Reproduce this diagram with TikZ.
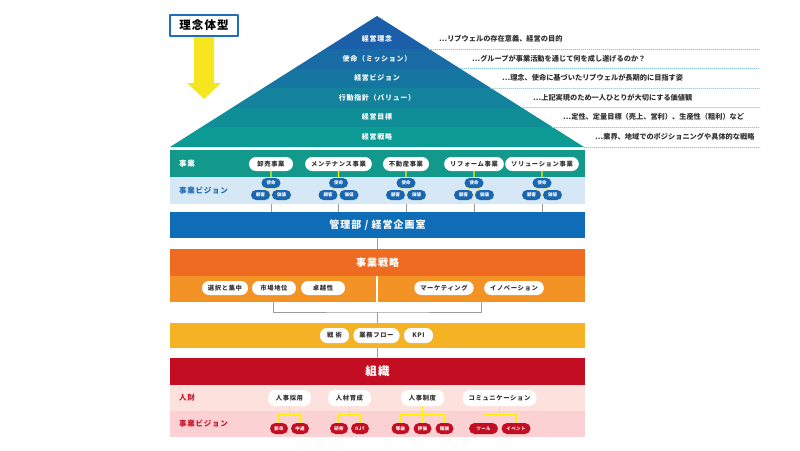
\documentclass[tikz,border=0pt]{standalone}
\usepackage{fontspec}
\setmainfont{Noto Sans CJK JP}
\newfontfamily\widefont[LetterSpace=10]{Noto Sans CJK JP}
\usetikzlibrary{positioning}

\definecolor{pyrTop}{HTML}{1B5FAA}
\definecolor{pyrBottom}{HTML}{0C9A94}
\definecolor{jigyoTeal}{HTML}{12998C}
\definecolor{visionBlue}{HTML}{D6E7F5}
\definecolor{labelBlue}{HTML}{1F6CB4}
\definecolor{vpillBlue}{HTML}{1A66B0}
\definecolor{kanriBlue}{HTML}{0F6DB8}
\definecolor{senOrange}{HTML}{EF6B22}
\definecolor{senLight}{HTML}{F39325}
\definecolor{tacYellow}{HTML}{F4B224}
\definecolor{orgRed}{HTML}{C30D23}
\definecolor{jinPink}{HTML}{FDE1DD}
\definecolor{visPink}{HTML}{FBD1D4}
\definecolor{labelRed}{HTML}{C9172D}
\definecolor{lineYellow}{HTML}{FFF100}
\definecolor{lineGray}{HTML}{9D9D9D}
\definecolor{dotBlue}{HTML}{8DC5E8}
\definecolor{boxBlue}{HTML}{1F6FBF}
\definecolor{arrowYellow}{HTML}{F7E51F}
\definecolor{inkGray}{HTML}{333333}

\begin{document}
\begin{tikzpicture}[
  x=1pt, y=-1pt,
  line cap=round,
  line join=round,
  bar/.style={minimum width=415pt, minimum height=27pt, inner sep=0pt, text=white,
    font={\widefont\bfseries\fontsize{10}{12}\selectfont}},
  pyrlabel/.style={text=white, inner sep=0pt, font={\widefont\bfseries\fontsize{7}{8}\selectfont}},
  desc/.style={anchor=west, inner sep=0pt, text=inkGray, font={\bfseries\fontsize{7.2}{8}\selectfont}},
  lbl/.style={anchor=west, inner sep=0pt, font={\widefont\bfseries\fontsize{7.5}{9}\selectfont}},
  pill/.style={fill=white, text=inkGray, rounded corners=7pt, minimum width=44pt, minimum height=14pt,
    inner xsep=6pt, inner ysep=0pt, font={\widefont\bfseries\fontsize{6.3}{7}\selectfont}},
  vpill/.style={fill=vpillBlue, text=white, rounded corners=5pt, minimum width=19pt, minimum height=10pt,
    inner sep=0pt, font={\bfseries\fontsize{4.5}{5}\selectfont}},
  rpill/.style={fill=orgRed, text=white, rounded corners=5.5pt, minimum width=18pt, minimum height=11pt,
    inner xsep=4pt, inner ysep=0pt, font={\widefont\bfseries\fontsize{4.5}{5}\selectfont}},
  gline/.style={draw=lineGray, line width=1pt, line cap=butt},
  yline/.style={draw=lineYellow, line width=1.2pt, line cap=butt},
  dotline/.style={draw=dotBlue, line width=0.7pt, dash pattern=on 0.7pt off 1.3pt}
]
  \useasboundingbox (0,0) rectangle (800,450);

  % 理念体型
  \node[draw=boxBlue, line width=2.2pt, fill=white, minimum width=68pt, minimum height=21pt, inner sep=0pt,
    font={\widefont\bfseries\fontsize{11.5}{13}\selectfont}] (rinen) at (204,25.5) {理念体型};
  \fill[arrowYellow] (194,37) -- (194,83) -- (187,83) -- (204,99) -- (221,83) -- (214,83) -- (214,37) -- cycle;

  % ピラミッド
  \coordinate (A) at (170,147);
  \coordinate (B) at (584,147);
  \coordinate (S) at (377,16);
  \coordinate (E) at (760,0);
  \begin{scope}
    \clip (A) -- (S) -- (B) -- cycle;
    \fill[pyrTop] (170,10) rectangle (584,49.3);
    \fill[pyrBottom!20!pyrTop] (170,49) rectangle (584,68.8);
    \fill[pyrBottom!40!pyrTop] (170,68.5) rectangle (584,88.3);
    \fill[pyrBottom!60!pyrTop] (170,88) rectangle (584,107.8);
    \fill[pyrBottom!80!pyrTop] (170,107.5) rectangle (584,127.3);
    \fill[pyrBottom] (170,127) rectangle (584,148);
  \end{scope}

  \node[pyrlabel] (p1) at (377,39) {経営理念};
  \node[pyrlabel] (p2) at (377,58.5) {使命（ミッション）};
  \node[pyrlabel] (p3) at (377,78) {経営ビジョン};
  \node[pyrlabel] (p4) at (377,97.5) {行動指針（バリュー）};
  \node[pyrlabel] (p5) at (377,117) {経営目標};
  \node[pyrlabel] (p6) at (377,137) {経営戦略};

  % 説明
  \path (S) -- (B) coordinate[pos=0.252] (h1) coordinate[pos=0.401] (h2) coordinate[pos=0.550] (h3)
    coordinate[pos=0.698] (h4) coordinate[pos=0.847] (h5) coordinate[pos=1] (h6);
  \draw[dotline] (h1) -- (h1 -| E);
  \draw[dotline] (h2) -- (h2 -| E);
  \draw[dotline] (h3) -- (h3 -| E);
  \draw[dotline] (h4) -- (h4 -| E);
  \draw[dotline] (h5) -- (h5 -| E);
  \draw[dotline] (h6) -- (h6 -| E);

  \node[desc] (d1) at (439,39) {…リブウェルの存在意義、経営の目的};
  \node[desc] (d2) at (472,58.5) {…グループが事業活動を通じて何を成し遂げるのか？};
  \node[desc] (d3) at (502,78) {…理念、使命に基づいたリブウェルが長期的に目指す姿};
  \node[desc] (d4) at (533,97.5) {…上記実現のため一人ひとりが大切にする価値観};
  \node[desc] (d5) at (563,117) {…定性、定量目標（売上、営利）、生産性（粗利）など};
  \node[desc] (d6) at (595,136.5) {…業界、地域でのポジショニングや具体的な戦略};

  % 事業
  \node[bar, fill=jigyoTeal] (jigyo) at (377.5,163.5) {};
  \node[bar, fill=visionBlue] (vision) at (377.5,190.5) {};
  \node[lbl, text=white] (lj) at (179,163.5) {事業};
  \node[lbl, text=labelBlue] (lv) at (179,190.5) {事業ビジョン};

  \node[pill] (b1) at (271,164) {卸売事業};
  \node[pill] (b2) at (338.5,164) {メンテナンス事業};
  \node[pill] (b3) at (406,164) {不動産事業};
  \node[pill] (b4) at (474,164) {リフォーム事業};
  \node[pill] (b5) at (542,164) {ソリューション事業};

  % 事業ビジョン
  \node[vpill] (s1) at (271,183) {使命};
  \node[vpill] (k1) at (260.5,195) {顧客};
  \node[vpill] (v1) at (281.5,195) {価値};
  \node[vpill] (s2) at (338.5,183) {使命};
  \node[vpill] (k2) at (328,195) {顧客};
  \node[vpill] (v2) at (349,195) {価値};
  \node[vpill] (s3) at (406,183) {使命};
  \node[vpill] (k3) at (395.5,195) {顧客};
  \node[vpill] (v3) at (416.5,195) {価値};
  \node[vpill] (s4) at (474,183) {使命};
  \node[vpill] (k4) at (463.5,195) {顧客};
  \node[vpill] (v4) at (484.5,195) {価値};
  \node[vpill] (s5) at (542,183) {使命};
  \node[vpill] (k5) at (531.5,195) {顧客};
  \node[vpill] (v5) at (552.5,195) {価値};

  \draw[yline] (b1) -- (s1) (s1) -- (k1) (s1) -- (v1) (k1) -- (v1);
  \draw[yline] (b2) -- (s2) (s2) -- (k2) (s2) -- (v2) (k2) -- (v2);
  \draw[yline] (b3) -- (s3) (s3) -- (k3) (s3) -- (v3) (k3) -- (v3);
  \draw[yline] (b4) -- (s4) (s4) -- (k4) (s4) -- (v4) (k4) -- (v4);
  \draw[yline] (b5) -- (s5) (s5) -- (k5) (s5) -- (v5) (k5) -- (v5);

  % 管理部
  \node[bar, fill=kanriBlue, minimum height=26pt] (kanri) at (377.5,225) {管理部 / 経営企画室};
  \draw[gline] (vision.south -| b1) -- (kanri.north -| b1);
  \draw[gline] (vision.south -| b2) -- (kanri.north -| b2);
  \draw[gline] (vision.south -| b3) -- (kanri.north -| b3);
  \draw[gline] (vision.south -| b4) -- (kanri.north -| b4);
  \draw[gline] (vision.south -| b5) -- (kanri.north -| b5);

  % 事業戦略
  \node[bar, fill=senOrange] (sen) at (377.5,262.5) {事業戦略};
  \node[bar, fill=senLight, minimum width=206pt, minimum height=26pt] (senL) at (273,289) {};
  \node[bar, fill=senLight, minimum width=207pt, minimum height=26pt] (senR) at (481.5,289) {};
  \draw[gline] (kanri.south) -- (sen.north);

  \node[pill] (t1) at (225,288) {選択と集中};
  \node[pill] (t2) at (274,288) {市場地位};
  \node[pill] (t3) at (323,288) {卓越性};
  \node[pill] (t4) at (444,288) {マーケティング};
  \node[pill] (t5) at (514,288) {イノベーション};

  % 戦術
  \node[bar, fill=tacYellow, minimum height=25pt] (tac) at (377.5,335.5) {};
  \coordinate (brk) at (377.5,312);
  \draw[gline] (senL.south) |- (brk) -| (senR.south);
  \draw[gline] (brk) -- (tac.north);

  \node[pill, minimum width=29pt, minimum height=15pt] (q1) at (334.5,335.5) {戦 術};
  \node[pill, minimum width=29pt, minimum height=15pt] (q2) at (376.5,335.5) {業務フロー};
  \node[pill, minimum width=29pt, minimum height=15pt] (q3) at (418.5,335.5) {KPI};

  % 組織
  \node[bar, fill=orgRed, font={\widefont\bfseries\fontsize{11.5}{13}\selectfont}] (soshiki) at (377.5,371.5) {組織};
  \draw[gline] (tac.south) -- (soshiki.north);

  \node[bar, fill=jinPink, minimum height=26pt] (jinzai) at (377.5,398) {};
  \node[bar, fill=visPink, minimum height=26pt] (jvision) at (377.5,424) {};
  \node[lbl, text=labelRed] (lr) at (179,398) {人財};
  \node[lbl, text=labelRed] (lrv) at (179,424) {事業ビジョン};

  \node[pill, minimum width=43pt, minimum height=16pt] (j1) at (289.5,398) {人事採用};
  \node[pill, minimum width=43pt, minimum height=16pt] (j2) at (349.5,398) {人材育成};
  \node[pill, minimum width=43pt, minimum height=16pt] (j3) at (422.5,398) {人事制度};
  \node[pill, minimum width=43pt, minimum height=16pt] (j4) at (499.5,398) {コミュニケーション};

  \node[rpill] (r1) at (279,428.5) {新卒};
  \node[rpill] (r2) at (300,428.5) {中途};
  \node[rpill] (r3) at (339,428.5) {研修};
  \node[rpill] (r4) at (360,428.5) {OJT};
  \node[rpill] (r5) at (400.5,428.5) {等級};
  \node[rpill] (r6) at (422.5,428.5) {評価};
  \node[rpill] (r7) at (444.5,428.5) {報酬};
  \node[rpill, minimum width=29pt] (r8) at (483.5,428.5) {ツール};
  \node[rpill, minimum width=29pt] (r9) at (516,428.5) {イベント};

  \draw[yline] (j1.south) -- ++(0,8) coordinate (y1);
  \draw[yline] (r1.north) |- (y1) -| (r2.north);
  \draw[yline] (j2.south) -- ++(0,8) coordinate (y2);
  \draw[yline] (r3.north) |- (y2) -| (r4.north);
  \draw[yline] (j3.south) -- ++(0,8) coordinate (y3);
  \draw[yline] (r5.north) |- (y3) -| (r7.north);
  \draw[yline] (y3) -- (r6.north);
  \draw[yline] (j4.south) -- ++(0,8) coordinate (y4);
  \draw[yline] (r8.north) |- (y4) -| (r9.north);
\end{tikzpicture}
\end{document}
